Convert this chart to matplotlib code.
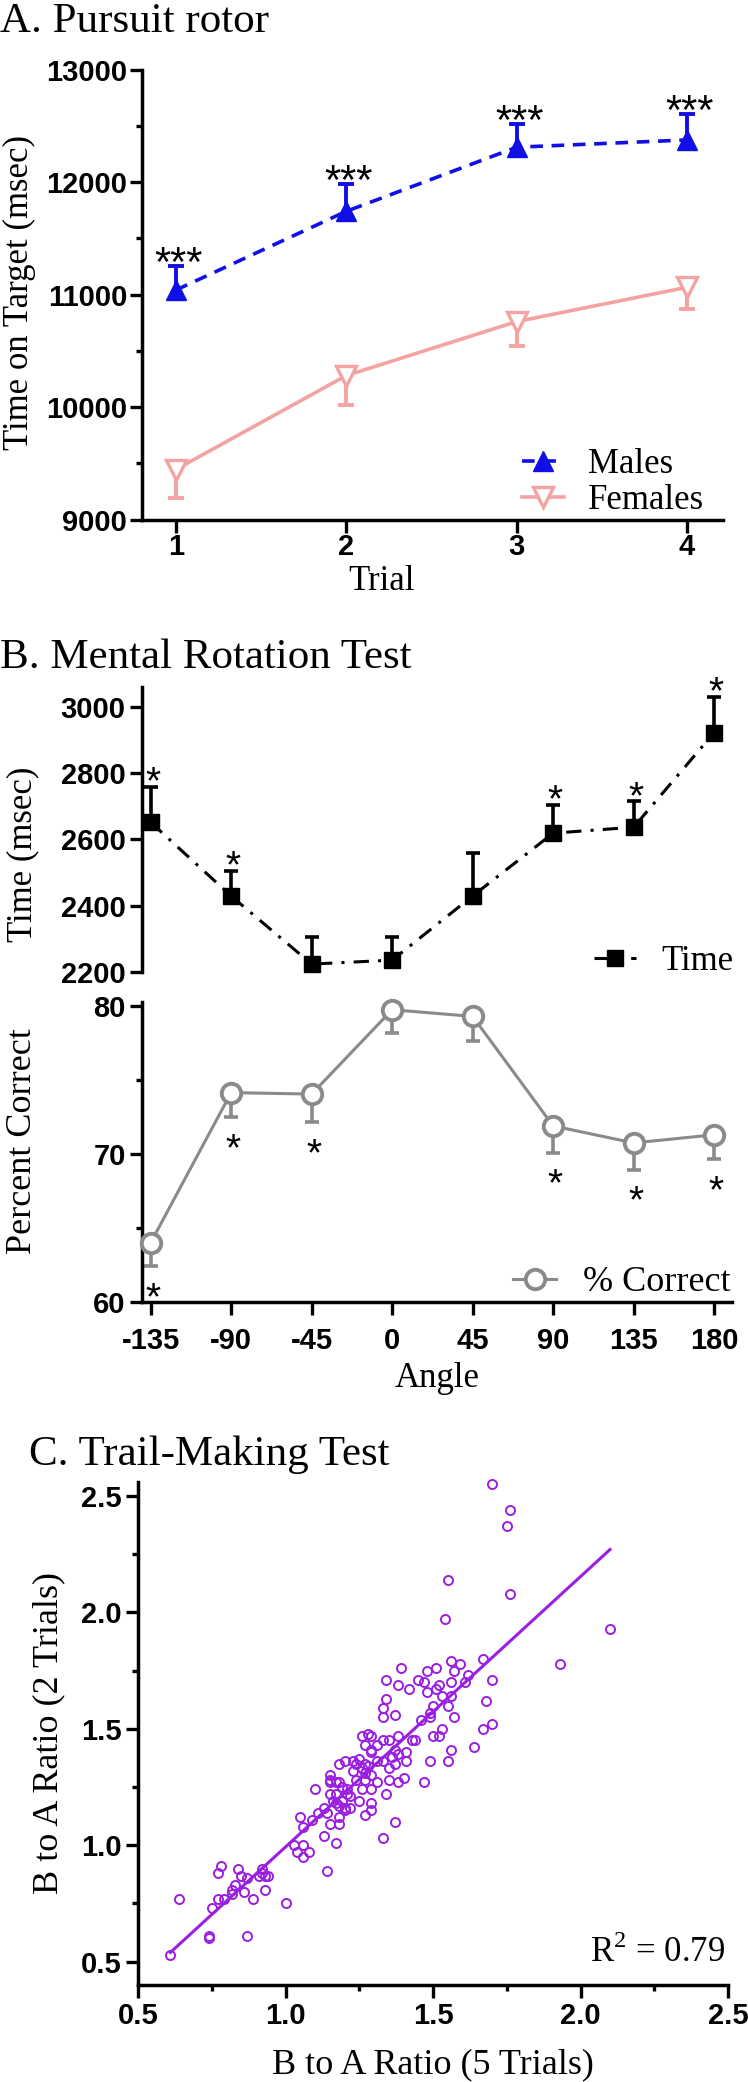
import numpy as np
import matplotlib
matplotlib.use("Agg")
import matplotlib.pyplot as plt

plt.rcParams['axes.unicode_minus'] = False
plt.rcParams['mathtext.fontset'] = 'custom'
plt.rcParams['mathtext.rm'] = 'Liberation Serif'

# ---------------- data ----------------
trials = [1, 2, 3, 4]
males_mean = [11040, 11740, 12310, 12375]
males_sem = [215, 240, 205, 228]
females_mean = [9445, 10280, 10760, 11065]
females_sem = [255, 258, 213, 190]
trial_stars = ["***", "***", "***", "***"]

angles = [-135, -90, -45, 0, 45, 90, 135, 180]
time_mean = [2652, 2429, 2223, 2235, 2429, 2619, 2637, 2923]
time_sem = [108, 77, 83, 69, 129, 85, 78, 107]
time_stars = ["*", "*", "", "", "", "*", "*", "*"]
correct_mean = [64.0, 74.15, 74.05, 79.75, 79.3, 71.9, 70.75, 71.3]
correct_sem = [1.6, 1.65, 1.9, 1.55, 1.65, 1.8, 1.8, 1.65]
correct_stars = ["*", "*", "*", "", "", "*", "*", "*"]

ratio_5 = [1.70, 1.76, 1.75, 1.55, 1.76, 1.54, 2.10, 1.93,
           1.67, 1.56, 1.59, 1.57, 1.51, 1.48, 1.39, 1.34, 1.45, 1.47, 1.52, 1.56,
           1.62, 1.61, 1.70, 1.38, 1.42, 1.48, 1.51, 1.53, 1.56, 1.34, 1.33, 1.50,
           1.55, 1.68, 1.37, 1.33, 1.49, 1.49, 1.57, 1.46, 1.67, 1.70, 1.53, 1.50,
           1.52, 1.56, 1.64, 1.55, 1.49, 1.47,
           1.26, 1.28, 1.29, 1.27, 1.35, 1.38, 1.43, 1.44, 1.33, 1.31, 1.29, 1.37,
           1.41, 1.38, 1.36, 1.29, 1.25, 1.23, 1.20, 1.18, 1.24, 1.27, 1.28, 1.31,
           1.33, 1.37, 1.41, 1.23, 1.26, 1.27, 1.29, 1.35, 1.40, 1.15, 1.15, 1.15,
           1.17, 1.18, 1.24, 1.27, 1.31, 1.35, 1.38, 1.10, 1.19, 1.21, 1.26, 1.29,
           1.34, 1.15, 1.17, 1.21, 1.22, 1.16, 1.19, 1.25, 1.29, 1.17, 1.20, 1.18,
           1.13, 1.22, 1.20, 1.29, 1.11, 1.14, 1.27, 1.18, 1.05, 1.09, 1.15, 1.18,
           1.06, 1.37, 1.13, 1.33, 1.17, 1.03, 1.06, 1.04, 1.08, 1.06, 1.14, 1.00,
           0.84, 0.78, 0.77, 0.85, 0.87, 0.92, 0.92, 0.93, 0.94, 0.91, 0.83, 0.82,
           0.86, 0.82, 0.93, 0.89, 0.77, 0.79, 0.64, 0.75, 0.74, 0.74, 0.87, 0.61]
ratio_2 = [2.55, 2.44, 2.37, 2.14, 2.08, 1.97, 1.93, 1.78,
           1.80, 1.79, 1.78, 1.75, 1.76, 1.75, 1.76, 1.71, 1.71, 1.70, 1.69, 1.70,
           1.73, 1.70, 1.71, 1.69, 1.67, 1.66, 1.67, 1.64, 1.64, 1.63, 1.59, 1.60,
           1.60, 1.62, 1.56, 1.55, 1.57, 1.55, 1.55, 1.54, 1.50, 1.52, 1.50, 1.47,
           1.47, 1.41, 1.42, 1.36, 1.36, 1.27,
           1.47, 1.48, 1.47, 1.43, 1.45, 1.47, 1.45, 1.45, 1.45, 1.43, 1.41, 1.41,
           1.40, 1.39, 1.38, 1.40, 1.37, 1.36, 1.36, 1.35, 1.35, 1.35, 1.34, 1.36,
           1.36, 1.35, 1.36, 1.32, 1.33, 1.31, 1.30, 1.33, 1.29, 1.30, 1.28, 1.27,
           1.27, 1.27, 1.28, 1.28, 1.27, 1.28, 1.27, 1.24, 1.25, 1.24, 1.24, 1.24,
           1.22, 1.22, 1.22, 1.22, 1.21, 1.19, 1.19, 1.19, 1.18, 1.18, 1.16, 1.17,
           1.16, 1.16, 1.15, 1.15, 1.14, 1.14, 1.13, 1.12, 1.12, 1.11, 1.09, 1.09,
           1.08, 1.10, 1.04, 1.03, 1.01, 1.00, 1.00, 0.97, 0.97, 0.95, 0.89, 0.75,
           0.90, 0.91, 0.88, 0.87, 0.86, 0.90, 0.88, 0.87, 0.87, 0.87, 0.83, 0.81,
           0.80, 0.79, 0.81, 0.77, 0.77, 0.77, 0.77, 0.73, 0.61, 0.60, 0.61, 0.53]
fit_x = [0.61, 2.10]
fit_y = [0.54, 2.27]
r_squared = 0.79

# ---------------- figure ----------------
W, H = 748, 2082
fig = plt.figure(figsize=(W / 100, H / 100), dpi=100)

SERIF = 'Liberation Serif'
SANS = 'Liberation Sans'


def rect(left, top, right, bottom):
    return [left / W, 1 - bottom / H, (right - left) / W, (bottom - top) / H]


def ftext(x, y, s, **kw):
    kw.setdefault('family', SERIF)
    return fig.text(x / W, 1 - y / H, s, **kw)


def style(ax, xpad, ypad, bottom=True):
    ax.spines['top'].set_visible(False)
    ax.spines['right'].set_visible(False)
    ax.spines['left'].set_linewidth(2.5)
    ax.spines['bottom'].set_linewidth(2.5)
    if not bottom:
        ax.spines['bottom'].set_visible(False)
        ax.tick_params(axis='x', which='both', bottom=False, labelbottom=False)
    ax.tick_params(which='major', length=9, width=2.4, direction='out')
    ax.tick_params(which='minor', length=4.5, width=2.4, direction='out')
    ax.tick_params(axis='x', pad=xpad)
    ax.tick_params(axis='y', pad=ypad)
    for lab in ax.get_xticklabels() + ax.get_yticklabels():
        lab.set_family(SANS)
        lab.set_weight('bold')
        lab.set_fontsize(21)


def one_sided(ax, x, y, err, up, color, lw, cap):
    z = np.zeros(len(err))
    yerr = [z, err] if up else [err, z]
    cont = ax.errorbar(x, y, yerr=yerr, fmt='none', ecolor=color, elinewidth=lw,
                       capsize=cap, capthick=lw, zorder=2, clip_on=False)
    for cl in cont[1]:
        if np.allclose(cl.get_ydata(), y):
            cl.set_visible(False)


def stars(ax, x, y, labels, dy, dx=0, size=28):
    for xi, yi, s in zip(x, y, labels):
        if s:
            ax.annotate(s, xy=(xi, yi), xytext=(dx, dy), textcoords='offset points',
                        ha='center', va='baseline', fontsize=size, family=SANS,
                        annotation_clip=False)


# ---------------- A. Pursuit rotor ----------------
blue = '#1010E6'
pink = '#F4A2A2'
axA = fig.add_axes(rect(141.7, 69.6, 722.8, 519.6))
axA.set_xlim(0.8, 4.21)
axA.set_ylim(9000, 13000)
one_sided(axA, trials, males_mean, males_sem, True, blue, 2.8, 6)
one_sided(axA, trials, females_mean, females_sem, False, pink, 2.8, 6)
lm, = axA.plot(trials, males_mean, color=blue, lw=2.6, dashes=(3.5, 2.4),
               marker='^', ms=14, mfc=blue, mec=blue, zorder=3, clip_on=False, label='Males')
lf, = axA.plot(trials, females_mean, color=pink, lw=2.6, marker='v', ms=14, mfc='white',
               mec=pink, mew=2.4, zorder=3, clip_on=False, label='Females')
axA.set_xticks(trials)
axA.set_yticks([9000, 10000, 11000, 12000, 13000])
axA.set_yticks([9500, 10500, 11500, 12500], minor=True)
style(axA, 0.5, 1.5)
tops = [m + s for m, s in zip(males_mean, males_sem)]
stars(axA, trials, tops, trial_stars, dy=-7, dx=2, size=30)
axA.legend(handles=[lm, lf], loc='center left', bbox_to_anchor=(522 / W, 1 - 482.7 / H),
           bbox_transform=fig.transFigure, frameon=False, borderpad=0, borderaxespad=0,
           handlelength=1.2, handletextpad=0.7, labelspacing=0.1,
           prop=dict(family=SERIF, size=25))
ftext(0, 32, 'A. Pursuit rotor', fontsize=31, va='baseline')
ftext(19, 292, 'Time on Target (msec)', fontsize=25, rotation=90, ha='center', va='center')
ftext(382, 590, 'Trial', fontsize=25, ha='center', va='baseline')

# ---------------- B. Mental Rotation Test ----------------
gray = '#8A8A8A'
axT = fig.add_axes(rect(141.7, 686.7, 732, 971.7))
axT.set_xlim(-140, 190)
axT.set_ylim(2200, 3062)
one_sided(axT, angles, time_mean, time_sem, True, 'black', 2.6, 5)
lt, = axT.plot(angles, time_mean, color='black', lw=2.2, dashes=(5, 3, 1, 3), marker='s',
               ms=11.5, mfc='black', mec='black', zorder=3, clip_on=False, label='Time')
axT.set_yticks([2200, 2400, 2600, 2800, 3000])
style(axT, 5, 2.5, bottom=False)
tops = [m + s for m, s in zip(time_mean, time_sem)]
stars(axT, angles, tops, time_stars, dy=-4.6, dx=1.5)
axT.legend(handles=[lt], loc='center left', bbox_to_anchor=(594 / W, 1 - 961.7 / H),
           bbox_transform=fig.transFigure, frameon=False, borderpad=0, borderaxespad=0,
           handlelength=1.2, handletextpad=0.75, prop=dict(family=SERIF, size=25))

axB = fig.add_axes(rect(141.7, 1001.6, 732, 1302))
axB.set_xlim(-140, 190)
axB.set_ylim(60, 80.3)
one_sided(axB, angles, correct_mean, correct_sem, False, gray, 2.6, 5)
lc, = axB.plot(angles, correct_mean, color=gray, lw=2.2, marker='o', ms=14, mfc='white',
               mec=gray, mew=2.8, zorder=3, clip_on=False, label='% Correct')
axB.set_xticks(angles)
axB.set_yticks([60, 70, 80])
axB.set_yticks([65, 75], minor=True)
style(axB, 9, 2.5)
lows = [m - s for m, s in zip(correct_mean, correct_sem)]
stars(axB, angles, lows, correct_stars, dy=-31, dx=1.5)
axB.legend(handles=[lc], loc='center left', bbox_to_anchor=(513 / W, 1 - 1282.7 / H),
           bbox_transform=fig.transFigure, frameon=False, borderpad=0, borderaxespad=0,
           handlelength=1.2, handletextpad=0.75, prop=dict(family=SERIF, size=26))
ftext(0, 668, 'B. Mental Rotation Test', fontsize=31, va='baseline')
ftext(22.5, 854, 'Time (msec)', fontsize=25, rotation=90, ha='center', va='center')
ftext(23, 1141, 'Percent Correct', fontsize=26, rotation=90, ha='center', va='center')
ftext(437, 1387, 'Angle', fontsize=25, ha='center', va='baseline')

# ---------------- C. Trail-Making Test ----------------
purple = '#9A1FE0'
axC = fig.add_axes(rect(138, 1482, 728, 1985))
axC.set_xlim(0.5, 2.5)
axC.set_ylim(0.4, 2.56)
axC.plot(ratio_5, ratio_2, linestyle='none', marker='o', ms=6.5, mfc='none', mec=purple,
         mew=1.4, zorder=3, clip_on=False)
axC.plot(fit_x, fit_y, color=purple, lw=2.2, zorder=2)
axC.set_xticks([0.5, 1.0, 1.5, 2.0, 2.5])
axC.set_xticklabels(['0.5', '1.0', '1.5', '2.0', '2.5'])
axC.set_xticks([0.75, 1.25, 1.75, 2.25], minor=True)
axC.set_yticks([0.5, 1.0, 1.5, 2.0, 2.5])
axC.set_yticklabels(['0.5', '1.0', '1.5', '2.0', '2.5'])
axC.set_yticks([0.75, 1.25, 1.75, 2.25], minor=True)
style(axC, 3, 3)
axC.text(0.995, 0.045, r'R$^{2}$ = %.2f' % r_squared, transform=axC.transAxes, ha='right',
         va='baseline', fontsize=25, family=SERIF)
ftext(29, 1465, 'C. Trail-Making Test', fontsize=31, va='baseline')
ftext(49, 1733, 'B to A Ratio (2 Trials)', fontsize=26, rotation=90, ha='center', va='center')
ftext(433, 2073, 'B to A Ratio (5 Trials)', fontsize=26, ha='center', va='baseline')

fig.savefig('out.png', dpi=100)
